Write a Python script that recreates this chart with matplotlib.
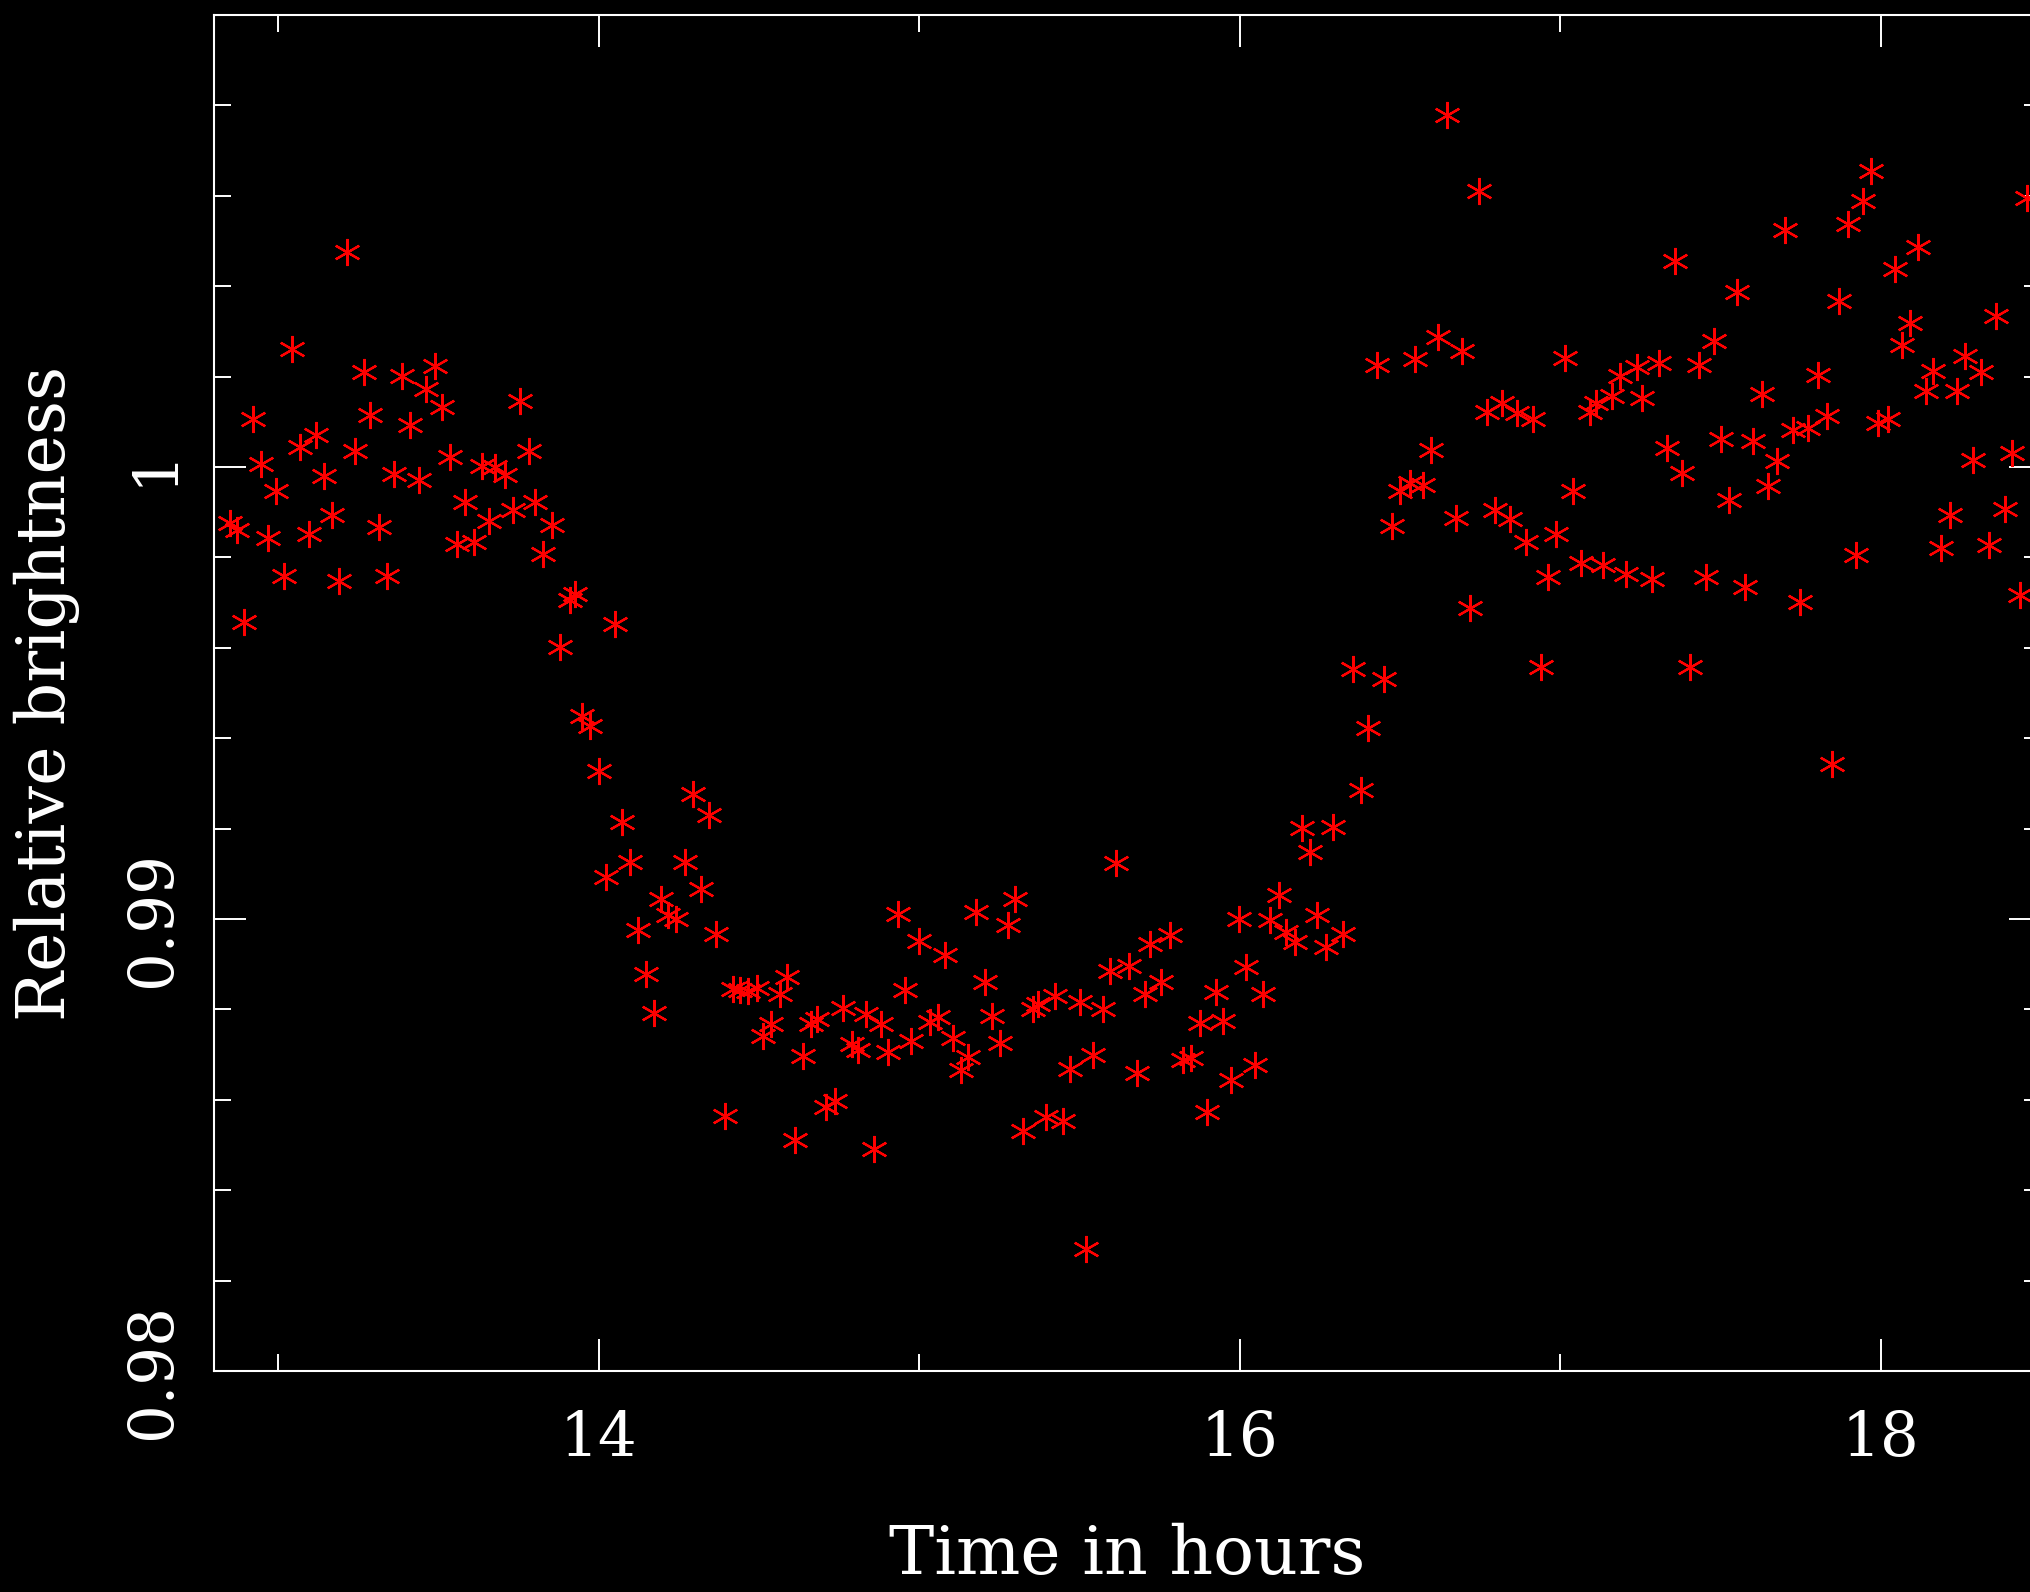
import matplotlib
matplotlib.use("Agg")
import matplotlib.pyplot as plt
from matplotlib.ticker import FixedLocator, MultipleLocator, FuncFormatter

# time of each exposure (hours) and the relative brightness
time_h = [
    12.849, 12.871, 12.895, 12.921, 12.946, 12.970, 12.994, 13.019, 13.043, 13.067,
    13.095, 13.119, 13.142, 13.168, 13.189, 13.215, 13.241, 13.267, 13.288, 13.316,
    13.340, 13.360, 13.388, 13.412, 13.438, 13.461, 13.488, 13.510, 13.537, 13.558,
    13.584, 13.610, 13.636, 13.657, 13.678, 13.707, 13.733, 13.756, 13.782, 13.803,
    13.826, 13.854, 13.878, 13.912, 13.927, 13.949, 13.974, 14.001, 14.024, 14.052,
    14.074, 14.099, 14.123, 14.149, 14.173, 14.196, 14.216, 14.242, 14.268, 14.294,
    14.318, 14.344, 14.367, 14.393, 14.418, 14.440, 14.465, 14.493, 14.513, 14.537,
    14.565, 14.589, 14.612, 14.637, 14.661, 14.680, 14.710, 14.736, 14.762, 14.791,
    14.809, 14.835, 14.858, 14.882, 14.903, 14.934, 14.955, 14.973, 14.998, 15.033,
    15.059, 15.082, 15.105, 15.132, 15.152, 15.178, 15.204, 15.228, 15.251, 15.277,
    15.298, 15.324, 15.355, 15.371, 15.397, 15.423, 15.449, 15.470, 15.501, 15.520,
    15.542, 15.574, 15.594, 15.615, 15.655, 15.680, 15.704, 15.719, 15.754, 15.782,
    15.823, 15.849, 15.875, 15.898, 15.925, 15.948, 15.972, 15.998, 16.021, 16.047,
    16.073, 16.096, 16.123, 16.146, 16.172, 16.193, 16.218, 16.242, 16.268, 16.291,
    16.322, 16.354, 16.380, 16.400, 16.427, 16.449, 16.476, 16.499, 16.530, 16.546,
    16.572, 16.598, 16.618, 16.647, 16.674, 16.695, 16.720, 16.746, 16.770, 16.796,
    16.817, 16.842, 16.865, 16.892, 16.915, 16.941, 16.962, 16.988, 17.014, 17.040,
    17.066, 17.092, 17.113, 17.134, 17.160, 17.186, 17.204, 17.238, 17.256, 17.285,
    17.308, 17.333, 17.357, 17.381, 17.406, 17.433, 17.454, 17.480, 17.503, 17.527,
    17.552, 17.576, 17.602, 17.628, 17.648, 17.676, 17.700, 17.725, 17.747, 17.773,
    17.803, 17.831, 17.847, 17.869, 17.898, 17.924, 17.945, 17.971, 17.992, 18.023,
    18.044, 18.065, 18.091, 18.116, 18.140, 18.163, 18.189, 18.215, 18.238, 18.262,
    18.288, 18.314, 18.338, 18.361, 18.387, 18.408, 18.434, 18.456,
]

brightness = [
    0.99876, 0.99860, 0.99657, 1.00107, 1.00007, 0.99843, 0.99948, 0.99758, 1.00260, 1.00045,
    0.99851, 1.00070, 0.99981, 0.99893, 0.99747, 1.00475, 1.00035, 1.00210, 1.00114, 0.99867,
    0.99758, 0.99985, 1.00202, 1.00094, 0.99972, 1.00173, 1.00223, 1.00132, 1.00022, 0.99830,
    0.99922, 0.99834, 1.00002, 0.99880, 1.00000, 0.99983, 0.99904, 1.00147, 1.00035, 0.99922,
    0.99808, 0.99871, 0.99601, 0.99705, 0.99719, 0.99450, 0.99428, 0.99327, 0.99094, 0.99653,
    0.99214, 0.99126, 0.98976, 0.98879, 0.98792, 0.99045, 0.99008, 0.99000, 0.99126, 0.99277,
    0.99067, 0.99229, 0.98967, 0.98565, 0.98846, 0.98842, 0.98840, 0.98848, 0.98742, 0.98767,
    0.98835, 0.98871, 0.98511, 0.98698, 0.98767, 0.98778, 0.98584, 0.98598, 0.98803, 0.98724,
    0.98711, 0.98789, 0.98492, 0.98768, 0.98705, 0.99012, 0.98842, 0.98729, 0.98952, 0.98772,
    0.98784, 0.98921, 0.98737, 0.98665, 0.98694, 0.99015, 0.98860, 0.98786, 0.98725, 0.98986,
    0.99045, 0.98532, 0.98801, 0.98812, 0.98562, 0.98829, 0.98554, 0.98669, 0.98816, 0.98270,
    0.98700, 0.98801, 0.98886, 0.99123, 0.98897, 0.98659, 0.98835, 0.98944, 0.98860, 0.98964,
    0.98687, 0.98693, 0.98769, 0.98573, 0.98838, 0.98775, 0.98644, 0.99000, 0.98893, 0.98676,
    0.98835, 0.98997, 0.99052, 0.98971, 0.98949, 0.99201, 0.99148, 0.99008, 0.98939, 0.99203,
    0.98967, 0.99553, 0.99286, 0.99423, 1.00225, 0.99532, 0.99869, 0.99946, 0.99965, 1.00239,
    0.99961, 1.00037, 1.00287, 1.00779, 0.99887, 1.00257, 0.99689, 1.00611, 1.00122, 0.99905,
    1.00142, 0.99885, 1.00120, 0.99835, 1.00107, 0.99557, 0.99756, 0.99852, 1.00242, 0.99946,
    0.99788, 1.00122, 1.00142, 0.99784, 1.00156, 1.00201, 0.99764, 1.00221, 1.00152, 0.99752,
    1.00229, 1.00043, 1.00456, 0.99986, 0.99557, 1.00226, 0.99756, 1.00278, 1.00061, 0.99926,
    1.00388, 0.99735, 1.00058, 1.00161, 0.99959, 1.00013, 1.00525, 1.00082, 0.99702, 1.00087,
    1.00204, 1.00112, 0.99342, 1.00368, 1.00537, 0.99806, 1.00588, 1.00655, 1.00097, 1.00107,
    1.00438, 1.00270, 1.00319, 1.00487, 1.00169, 1.00213, 0.99821, 0.99893, 1.00169, 1.00245,
    1.00015, 1.00211, 0.99827, 1.00334, 0.99907, 1.00031, 0.99717, 1.00596,
]

x_major = [14, 16, 18]
y_major = [0.98, 0.99, 1.0]

plt.rcParams['font.family'] = ['DejaVu Serif']

fig = plt.figure(figsize=(20.31, 15.92), dpi=100, facecolor='black')
# the frame runs a little past the right edge of the picture, as in the original
ax = fig.add_axes([0.10537, 0.13882, 0.89956, 0.85176], facecolor='black')

ax.plot(time_h, brightness, linestyle='none', marker=(6, 2, 0),
        markersize=19.5, markeredgewidth=1.6, color='red')

ax.set_xlim(12.8, 18.5)
ax.set_ylim(0.98, 1.01)

ax.xaxis.set_major_locator(FixedLocator(x_major))
ax.xaxis.set_minor_locator(MultipleLocator(1))
ax.yaxis.set_major_locator(FixedLocator(y_major))
ax.yaxis.set_minor_locator(MultipleLocator(0.002))
ax.xaxis.set_major_formatter(FuncFormatter(lambda v, p: '%g' % v))
ax.yaxis.set_major_formatter(FuncFormatter(lambda v, p: '%g' % v))

for s in ax.spines.values():
    s.set_color('white')
    s.set_linewidth(1.5)

ax.tick_params(which='both', direction='in', top=True, right=True,
               colors='white', width=1.4)
ax.tick_params(which='major', length=23, labelsize=44)
ax.tick_params(which='minor', length=12)
ax.tick_params(axis='x', which='major', pad=27)
ax.tick_params(axis='y', which='major', pad=22)
for lab in ax.get_yticklabels():
    lab.set_rotation(90)
    lab.set_va('center')

ax.set_xlabel('Time in hours', fontsize=49, color='white', va='baseline')
ax.xaxis.set_label_coords(0.5, -0.150)
ax.set_ylabel('Relative brightness', fontsize=48, color='white', va='baseline')
ax.yaxis.set_label_coords(-0.0816, 0.5)

fig.savefig('out.png', dpi=100, facecolor='black')
